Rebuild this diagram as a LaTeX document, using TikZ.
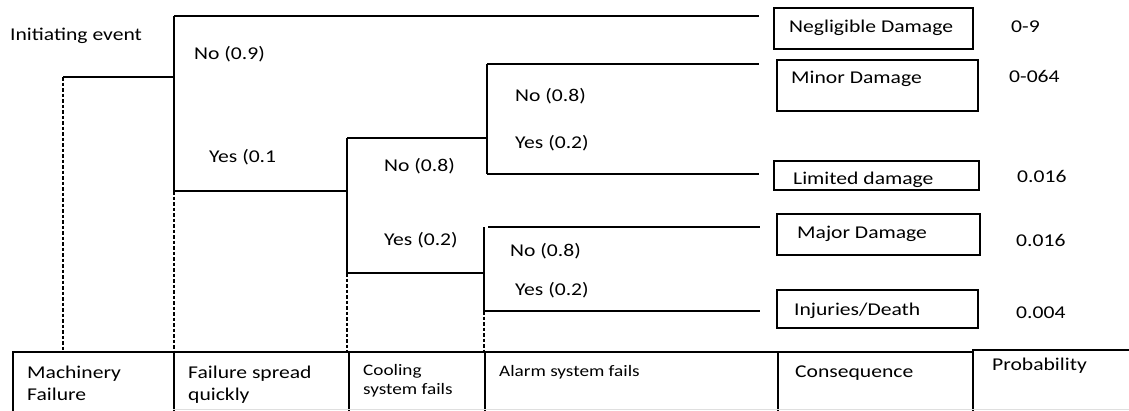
\documentclass[tikz,border=0pt]{standalone}
\usepackage{fontspec}
\setmainfont{Carlito}[FakeStretch=1.2]
\begin{document}
\begin{tikzpicture}[x=1pt,y=-1pt,
  branch/.style={line width=2.2pt},
  guide/.style={line width=1.8pt, dash pattern=on 3.5pt off 2pt},
  cbox/.style={draw, line width=1.8pt, anchor=north west, inner sep=0pt},
  cell/.style={draw, line width=1.8pt, anchor=north west, inner sep=0pt},
  lbl/.style={anchor=base west, inner sep=0pt, font=\fontsize{18}{22}\selectfont},
  small/.style={anchor=base west, inner sep=0pt, font=\fontsize{16}{19}\selectfont}]
\useasboundingbox (0,0) rectangle (1129,410);
\clip (0,0) rectangle (1129,410);

% ---- table of stages along the bottom
\node[cell, minimum width=161pt, minimum height=90pt] (cMach) at (12,351) {};
\node[cell, minimum width=175pt, minimum height=90pt] (cSpread) at (173,351) {};
\node[cell, minimum width=136pt, minimum height=90pt] (cCool) at (348,351) {};
\node[cell, minimum width=293pt, minimum height=90pt] (cAlarm) at (484,351) {};
\node[cell, minimum width=195pt, minimum height=90pt] (cCons) at (777,351) {};
\node[cell, minimum width=170pt, minimum height=92pt] (cProb) at (972,349) {};
\draw[gray!25, line width=1pt] (173,409.5) -- (1129,409.5);

\node[lbl] (tMach1) at (27,378) {Machinery};
\node[lbl] (tMach2) at (27,400) {Failure};
\node[lbl] (tSpr1) at (188,378) {Failure spread};
\node[lbl] (tSpr2) at (188,400) {quickly};
\node[small] (tCool1) at (363,375) {Cooling};
\node[small] (tCool2) at (363,394) {system fails};
\node[small] (tAlarm) at (499,376) {Alarm system fails};
\node[lbl] (tCons) at (795,377) {Consequence};
\node[lbl] (tProb) at (992,370) {Probability};

% ---- branch points of the event tree
\coordinate (ie) at (63,77);
\coordinate (s1) at (174,77);
\coordinate (s1t) at (174,16);
\coordinate (s1b) at (174,191);
\coordinate (negL) at (759,16);
\coordinate (c1) at (347,191);
\coordinate (c1t) at (347,138);
\coordinate (c1b) at (347,273);
\coordinate (a1t) at (487,64);
\coordinate (a1m) at (487,138);
\coordinate (a1b) at (487,174);
\coordinate (minL) at (759,64);
\coordinate (limL) at (759,174);
\coordinate (a2t) at (484,227);
\coordinate (a2tr) at (488,227);
\coordinate (a2m) at (484,273);
\coordinate (a2b) at (484,311);
\coordinate (majL) at (760,227);
\coordinate (injL) at (760,311);

% ---- tree branches
\draw[branch] (ie) -- (s1);
\draw[branch] (s1t) -- (s1b);
\draw[branch] (s1t) -- (negL);
\draw[branch] (s1b) -- (c1);
\draw[branch] (c1t) -- (c1b);
\draw[branch] (c1t) -- (a1m);
\draw[branch] (a1t) -- (a1b);
\draw[branch] (a1t) -- (minL);
\draw[branch] (a1b) -- (limL);
\draw[branch] (c1b) -- (a2m);
\draw[branch] (a2t) -- (a2b);
\draw[branch] (a2tr) -- (majL);
\draw[branch] (a2b) -- (injL);

% ---- dashed guides down to the stage table
\draw[guide] (ie) -- (ie |- cMach.north);
\draw[guide] (s1b) -- (s1b |- cSpread.north);
\draw[guide] (c1b) -- (c1b |- cCool.north);
\draw[guide] (a2b) -- (a2b |- cAlarm.north);

% ---- branch labels
\node[lbl] (tInit) at (10,40.5) {Initiating event};
\node[lbl] (tNo1) at (194,59) {No (0.9)};
\node[lbl] (tYes1) at (209,162.5) {Yes (0.1};
\node[lbl] (tNo2) at (384,171.5) {No (0.8)};
\node[lbl] (tYes2) at (384,245) {Yes (0.2)};
\node[lbl] (tNo3) at (515,101.5) {No (0.8)};
\node[lbl] (tYes3) at (515,148) {Yes (0.2)};
\node[lbl] (tNo4) at (510,256.5) {No (0.8)};
\node[lbl] (tYes4) at (515,295) {Yes (0.2)};

% ---- consequence boxes
\node[cbox, minimum width=199pt, minimum height=41pt] (bNeg) at (773,7) {};
\node[cbox, minimum width=201pt, minimum height=51pt] (bMin) at (776,59) {};
\node[cbox, minimum width=205pt, minimum height=29pt] (bLim) at (773,160) {};
\node[cbox, minimum width=203pt, minimum height=41pt] (bMaj) at (776,213) {};
\node[cbox, minimum width=201pt, minimum height=38pt] (bInj) at (776,289) {};

\node[lbl] (tNeg) at (789,32.3) {Negligible Damage};
\node[lbl] (tMin) at (791,83.3) {Minor Damage};
% the label sits low and its descenders are cut by the box edge
\begin{scope}
  \clip (bLim.north west) rectangle ([yshift=1pt]bLim.south east);
  \node[lbl] (tLim) at (793,184.5) {Limited damage};
\end{scope}
\node[lbl] (tMaj) at (797,238.3) {Major Damage};
\node[lbl] (tInj) at (794,315) {Injuries/Death};

% ---- probabilities
\node[lbl] (pNeg) at (1011,32.7) {0-9};
\node[lbl] (pMin) at (1009,82.7) {0-064};
\node[lbl] (pLim) at (1017,182.7) {0.016};
\node[lbl] (pMaj) at (1016,246) {0.016};
\node[lbl] (pInj) at (1016,318) {0.004};
\end{tikzpicture}
\end{document}
